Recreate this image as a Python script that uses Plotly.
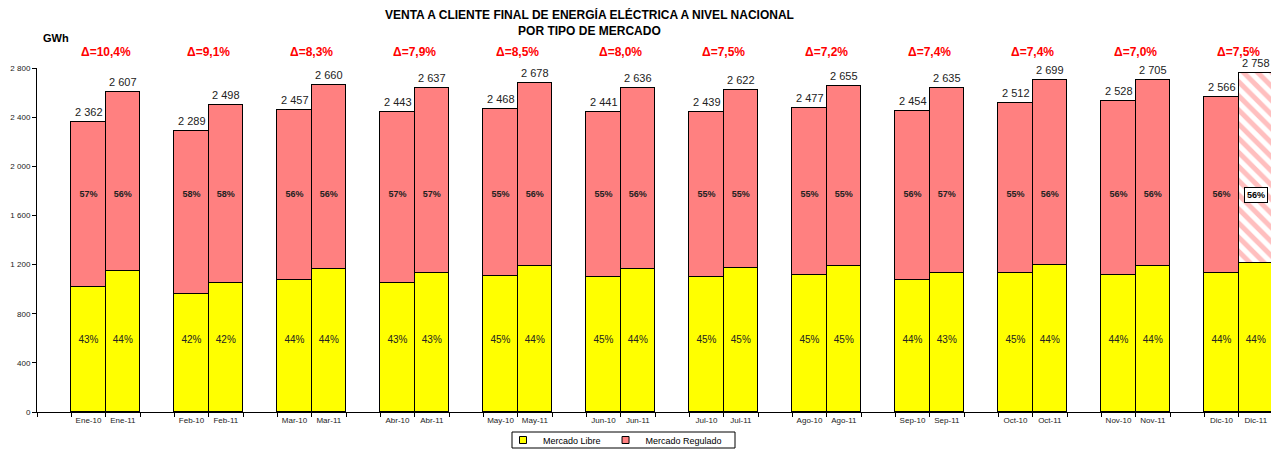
import plotly.graph_objects as go

months = ["Ene", "Feb", "Mar", "Abr", "May", "Jun", "Jul", "Ago", "Sep", "Oct", "Nov", "Dic"]

# totals per bar, order: X-10, X-11 for each month
totals = [2362, 2607, 2289, 2498, 2457, 2660, 2443, 2637, 2468, 2678, 2441, 2636,
          2439, 2622, 2477, 2655, 2454, 2635, 2512, 2699, 2528, 2705, 2566, 2758]
libre = [1017, 1145, 960, 1049, 1078, 1165, 1048, 1130, 1105, 1185, 1095, 1162,
         1100, 1172, 1112, 1190, 1075, 1135, 1128, 1195, 1115, 1190, 1128, 1210]
regulado = [t - l for t, l in zip(totals, libre)]
pct_libre = [43, 44, 42, 42, 44, 44, 43, 43, 45, 44, 45, 44,
             45, 45, 45, 45, 44, 43, 45, 44, 44, 44, 44, 44]
pct_regulado = [57, 56, 58, 58, 56, 56, 57, 57, 55, 56, 55, 56,
                55, 55, 55, 55, 56, 57, 55, 56, 56, 56, 56, 56]
deltas = ["10,4", "9,1", "8,3", "7,9", "8,5", "8,0", "7,5", "7,2", "7,4", "7,4", "7,0", "7,5"]

FONT = "Arial, Liberation Sans, sans-serif"
PINK = "#FF8080"
YELLOW = "#FFFF00"
LABEL_Y_REG = 1765   # the share labels sit at a fixed height in the original
LABEL_Y_LIB = 585

# the page body has an 8px default margin, so size the figure to fit the window
W, H = 1279 - 8, 452 - 8

# category axis: one blank slot before every month pair
cats = []
bar_cats = []
for k, m in enumerate(months):
    cats.append(" " * (k + 1))
    cats += [m + "-10", m + "-11"]
    bar_cats += [m + "-10", m + "-11"]

fmt = lambda v: f"{v:,}".replace(",", " ")

fig = go.Figure()
fig.add_trace(go.Bar(
    x=bar_cats, y=libre, name="Mercado Libre", showlegend=False,
    marker=dict(color=YELLOW, line=dict(color="black", width=1)),
))
# last bar (Dic-11) is an estimate -> hatched
fig.add_trace(go.Bar(
    x=bar_cats[:-1], y=regulado[:-1], name="Mercado Regulado", showlegend=False,
    marker=dict(color=PINK, line=dict(color="black", width=1)),
))
fig.add_trace(go.Bar(
    x=bar_cats[-1:], y=regulado[-1:], name="Mercado Regulado (est.)", showlegend=False,
    marker=dict(color="white", line=dict(color="black", width=1),
                pattern=dict(shape="\\", fgcolor=PINK, bgcolor="white", fillmode="overlay",
                             size=10, solidity=0.5)),
))
# share labels
fig.add_trace(go.Scatter(
    x=bar_cats, y=[LABEL_Y_LIB] * len(bar_cats), mode="text",
    text=[f"{p}%" for p in pct_libre], textfont=dict(size=10, color="#222", family=FONT),
    showlegend=False, hoverinfo="skip",
))
fig.add_trace(go.Scatter(
    x=bar_cats[:-1], y=[LABEL_Y_REG] * (len(bar_cats) - 1), mode="text",
    text=[f"<b>{p}%</b>" for p in pct_regulado[:-1]], textfont=dict(size=9, color="#222", family=FONT),
    showlegend=False, hoverinfo="skip",
))
# legend entries with small square symbols
for name, col in [("Mercado Libre", YELLOW), ("Mercado Regulado", PINK)]:
    fig.add_trace(go.Scatter(
        x=[None], y=[None], mode="markers", name=name,
        marker=dict(symbol="square", size=7, color=col, line=dict(color="black", width=1)),
    ))

annotations = []
# totals above bars
for c, t in zip(bar_cats, totals):
    annotations.append(dict(
        x=c, xref="x", y=t, yref="y", text=fmt(t), yanchor="bottom", yshift=2,
        showarrow=False, font=dict(size=11, color="#222", family=FONT),
    ))
for k, d in enumerate(deltas):
    annotations.append(dict(
        x=3 * k + 1.5, xref="x", y=1.047, yref="paper", text=f"<b>Δ={d}%</b>",
        showarrow=False, font=dict(size=12, color="#FF0000", family=FONT), yanchor="middle",
    ))
# boxed label for the hatched bar
annotations.append(dict(
    x=bar_cats[-1], xref="x", y=LABEL_Y_REG, yref="y",
    text=f"<b>{pct_regulado[-1]}%</b>", showarrow=False,
    font=dict(size=9, color="black", family=FONT),
    bgcolor="white", bordercolor="black", borderwidth=1, borderpad=2,
))
annotations.append(dict(
    x=0.003, xref="paper", xanchor="left", y=1.087, yref="paper", text="<b>GWh</b>",
    showarrow=False, font=dict(size=11, color="black", family=FONT), yanchor="middle",
))
annotations.append(dict(
    x=(589 - 37) / 1236, xref="paper", xanchor="center", y=1.131, yref="paper",
    text="<b>VENTA A CLIENTE FINAL DE ENERGÍA ELÉCTRICA A NIVEL NACIONAL<br>POR TIPO DE MERCADO</b>",
    showarrow=False, font=dict(size=12, color="black", family=FONT), yanchor="middle",
))

fig.update_layout(
    width=W, height=H,
    margin=dict(l=29, r=6, t=60, b=40),
    paper_bgcolor="white", plot_bgcolor="white",
    barmode="stack", bargap=0,
    font=dict(family=FONT, color="black"),
    xaxis=dict(
        type="category", categoryorder="array", categoryarray=cats,
        tickson="boundaries", ticks="outside", ticklen=4, tickcolor="black",
        showline=True, linecolor="black", linewidth=1, tickangle=0, automargin=False,
        tickfont=dict(size=8, family=FONT, color="#222"),
        range=[-0.5, len(cats) - 0.5], showgrid=False,
    ),
    yaxis=dict(
        range=[0, 2800], tickvals=[0, 400, 800, 1200, 1600, 2000, 2400, 2800],
        ticktext=[fmt(v) for v in [0, 400, 800, 1200, 1600, 2000, 2400, 2800]],
        ticks="outside", ticklen=4, tickcolor="black", automargin=False,
        showline=True, linecolor="black", linewidth=1, showgrid=False, zeroline=False,
        tickfont=dict(size=8, family=FONT, color="#222"),
    ),
    legend=dict(
        orientation="h", x=(503 - 37) / 1236, xanchor="left",
        y=12 / H, yref="container", yanchor="middle",
        borderwidth=0, bgcolor="rgba(0,0,0,0)", font=dict(size=9, family=FONT),
        traceorder="normal", itemwidth=30, tracegroupgap=0,
    ),
    shapes=[dict(
        type="rect", xref="paper", yref="paper",
        x0=(512 - 37) / 1236, x1=(735 - 37) / 1236, y0=-(448 - 412) / 344, y1=-(432 - 412) / 344,
        line=dict(color="black", width=1), fillcolor="rgba(0,0,0,0)",
    )],
    annotations=annotations,
    showlegend=True,
)

fig.write_html("out.html")
